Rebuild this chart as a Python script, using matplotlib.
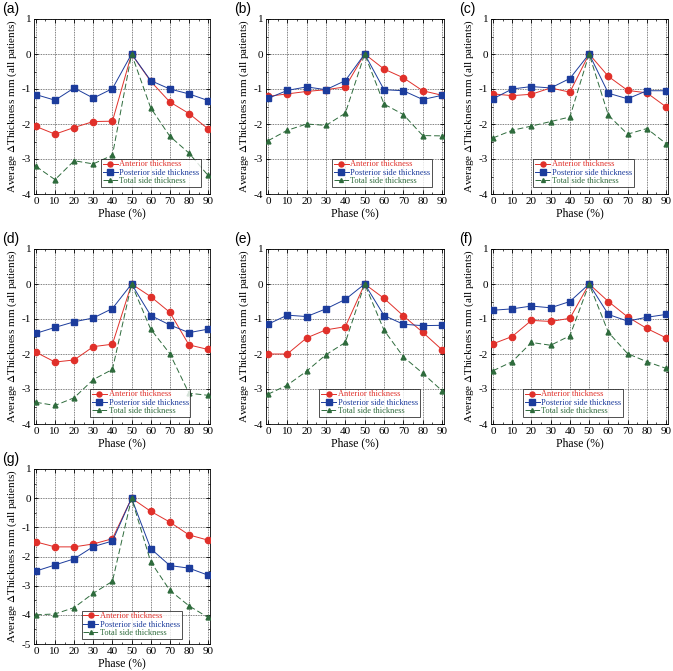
import matplotlib
matplotlib.use("Agg")
import matplotlib.pyplot as plt
from matplotlib.ticker import MultipleLocator

# phases (%)
phase = [0, 10, 20, 30, 40, 50, 60, 70, 80, 90]

# average change in thickness (mm), one list per panel and series
ant_a = [-2.07, -2.29, -2.10, -1.93, -1.92, 0, -0.78, -1.37, -1.70, -2.14]
post_a = [-1.16, -1.32, -0.97, -1.26, -0.99, 0, -0.76, -1.00, -1.14, -1.33]
tot_a = [-3.21, -3.59, -3.05, -3.14, -2.89, 0, -1.54, -2.35, -2.83, -3.47]

ant_b = [-1.21, -1.14, -1.07, -1.02, -0.94, 0, -0.43, -0.68, -1.05, -1.18]
post_b = [-1.27, -1.04, -0.94, -1.02, -0.76, 0, -1.02, -1.05, -1.30, -1.18]
tot_b = [-2.48, -2.18, -2.00, -2.04, -1.69, 0, -1.43, -1.73, -2.33, -2.34]

ant_c = [-1.14, -1.19, -1.15, -0.97, -1.09, 0, -0.64, -1.04, -1.11, -1.51]
post_c = [-1.28, -1.00, -0.93, -0.97, -0.70, 0, -1.12, -1.28, -1.05, -1.05]
tot_c = [-2.40, -2.18, -2.06, -1.93, -1.80, 0, -1.75, -2.29, -2.13, -2.56]

ant_d = [-1.95, -2.23, -2.17, -1.79, -1.72, 0, -0.36, -0.81, -1.74, -1.87]
post_d = [-1.41, -1.24, -1.08, -0.97, -0.70, 0, -0.90, -1.17, -1.39, -1.29]
tot_d = [-3.38, -3.47, -3.25, -2.73, -2.44, 0, -1.29, -1.99, -3.12, -3.18]

ant_e = [-2.00, -2.00, -1.54, -1.31, -1.22, 0, -0.41, -0.91, -1.38, -1.88]
post_e = [-1.15, -0.89, -0.93, -0.71, -0.44, 0, -0.90, -1.15, -1.19, -1.18]
tot_e = [-3.15, -2.89, -2.49, -2.02, -1.67, 0, -1.32, -2.08, -2.55, -3.05]

ant_f = [-1.71, -1.50, -1.04, -1.07, -0.98, 0, -0.50, -0.94, -1.27, -1.54]
post_f = [-0.75, -0.71, -0.63, -0.68, -0.50, 0, -0.87, -1.06, -0.95, -0.87]
tot_f = [-2.48, -2.22, -1.67, -1.75, -1.48, 0, -1.38, -1.99, -2.22, -2.41]

ant_g = [-1.50, -1.67, -1.67, -1.57, -1.39, 0, -0.45, -0.82, -1.26, -1.44]
post_g = [-2.50, -2.29, -2.08, -1.66, -1.47, 0, -1.73, -2.31, -2.40, -2.64]
tot_g = [-4.00, -3.97, -3.75, -3.26, -2.85, 0, -2.18, -3.16, -3.69, -4.09]

panel_labels = ["(a)", "(b)", "(c)", "(d)", "(e)", "(f)", "(g)"]
series_names = ["Anterior thickness", "Posterior side thickness", "Total side thickness"]

red = "#e0302a"
blue = "#1c3c9c"
green = "#2e6b3c"

plt.rcParams["font.family"] = "Liberation Serif"
plt.rcParams["mathtext.fontset"] = "stix"
plt.rcParams["axes.unicode_minus"] = False

fig = plt.figure(figsize=(6.73, 6.71), dpi=100)
W, H = 673, 671

# axes boxes in pixels: left, top, right, bottom
boxes = [
    (34, 19, 210, 194), (266, 19, 444, 194), (491, 19, 668, 194),
    (34, 249, 210, 424), (266, 249, 444, 424), (491, 249, 668, 424),
    (34, 469, 210, 644),
]
# legend lower-left positions (axes fraction)
leg_pos = [(0.38, 0.04), (0.37, 0.04), (0.24, 0.04),
           (0.32, 0.04), (0.30, 0.04), (0.18, 0.04), (0.27, 0.03)]

data = [
    (ant_a, post_a, tot_a), (ant_b, post_b, tot_b), (ant_c, post_c, tot_c),
    (ant_d, post_d, tot_d), (ant_e, post_e, tot_e), (ant_f, post_f, tot_f),
    (ant_g, post_g, tot_g),
]

for i, (ant, post, tot) in enumerate(data):
    l, t, r, b = boxes[i]
    ax = fig.add_axes([l / W, 1 - b / H, (r - l) / W, (b - t) / H])
    ax.plot(phase, ant, color=red, lw=0.7, marker="o", ms=4.5,
            label=series_names[0], zorder=3)
    ax.plot(phase, post, color=blue, lw=0.7, marker="s", ms=5,
            label=series_names[1], zorder=3)
    ax.plot(phase, tot, color=green, lw=0.7, ls=(0, (6, 3)), marker="^", ms=3.5,
            label=series_names[2], zorder=4)

    ax.set_xlim(-1, 91)
    ymin = -5 if i == 6 else -4
    ax.set_ylim(ymin, 1)
    ax.xaxis.set_major_locator(MultipleLocator(10))
    ax.xaxis.set_minor_locator(MultipleLocator(5))
    ax.yaxis.set_major_locator(MultipleLocator(1))
    ax.yaxis.set_minor_locator(MultipleLocator(0.5))
    ax.tick_params(which="both", direction="in", top=True, right=True,
                   labelsize=8, pad=2)
    ax.tick_params(which="major", length=3, width=0.6)
    ax.tick_params(which="minor", length=1.5, width=0.5)
    ax.grid(True, which="major", ls=(0, (1, 1)), color="#555555", lw=0.6)
    for s in ax.spines.values():
        s.set_linewidth(0.6)

    ax.set_xlabel("Phase (%)", fontsize=8.5, labelpad=1)
    ax.set_ylabel("Average $\\Delta$Thickness mm (all patients)", fontsize=8,
                  labelpad=2)

    leg = ax.legend(loc="lower left", bbox_to_anchor=leg_pos[i], fontsize=6,
                    frameon=True, fancybox=False, edgecolor="black",
                    handlelength=1.8, handletextpad=0.2, borderpad=0.2,
                    labelspacing=0.05, borderaxespad=0, markerscale=0.8)
    leg.get_frame().set_linewidth(0.6)
    for txt, c in zip(leg.get_texts(), [red, blue, green]):
        txt.set_color(c)

    fig.text((l - 34) / W + 2 / W, 1 - (t - 10) / H, panel_labels[i],
             family="Liberation Sans", fontsize=10, va="center", ha="left")

fig.savefig("out.png", dpi=100)
